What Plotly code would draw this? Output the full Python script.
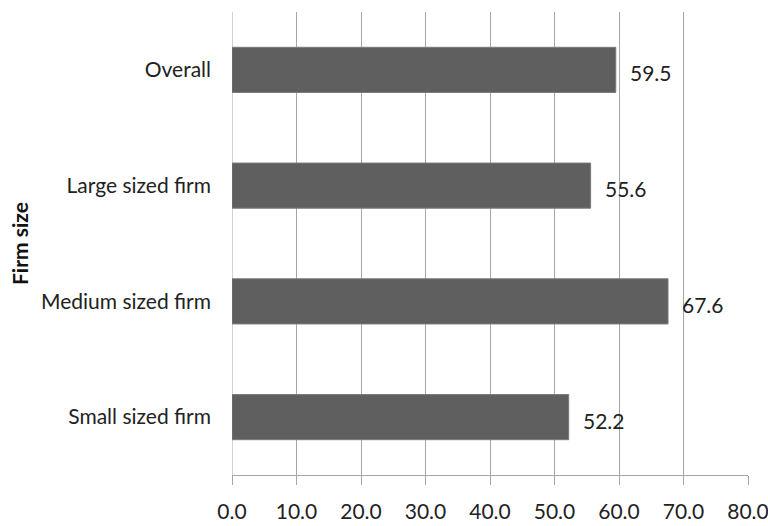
import plotly.graph_objects as go

categories = ["Small sized firm", "Medium sized firm", "Large sized firm", "Overall"]
values = [52.2, 67.6, 55.6, 59.5]
x_ticks = [0, 10, 20, 30, 40, 50, 60, 70, 80]
x_tick_labels = ["0.0", "10.0", "20.0", "30.0", "40.0", "50.0", "60.0", "70.0", "80.0"]

FONT = "Lato, Open Sans, sans-serif"
FS = 21
TXT = "#222222"

fig = go.Figure()
fig.add_trace(go.Bar(
    y=categories, x=values, orientation="h",
    marker=dict(color="#5f5f5f", line=dict(color="#7a7a7a", width=1)),
    width=0.39,
))

for c, v in zip(categories, values):
    fig.add_annotation(x=v, y=c, text=f"{v:.1f}", showarrow=False,
                       xanchor="left", xshift=12, yshift=-3,
                       font=dict(family=FONT, size=FS, color=TXT))

fig.add_annotation(xref="paper", yref="paper", x=-232 / 516, y=0.5,
                   xanchor="left", yanchor="middle", xshift=5,
                   text="<b>Firm size</b>", textangle=-90, showarrow=False,
                   font=dict(family=FONT, size=FS, color="#111111"))

fig.update_layout(
    width=768, height=526,
    margin=dict(l=232, r=20, t=12, b=51, autoexpand=False),
    paper_bgcolor="white", plot_bgcolor="white",
    showlegend=False,
    font=dict(family=FONT, size=FS, color=TXT),
)
fig.update_xaxes(
    range=[0, 80], tickvals=x_ticks, ticktext=x_tick_labels,
    showgrid=True, gridcolor="#a6a6a6", gridwidth=1,
    showline=True, linecolor="#a6a6a6", linewidth=1,
    ticks="outside", ticklen=9, tickcolor="#a6a6a6",
    tickfont=dict(family=FONT, size=FS, color=TXT),
    ticklabelstandoff=9, ticklabeloverflow="allow", automargin=False,
    zeroline=False,
)
fig.update_yaxes(
    categoryorder="array", categoryarray=categories,
    range=[-0.5, 3.5],
    showgrid=False, showline=False, zeroline=False,
    ticks="", ticklabelstandoff=20, automargin=False,
    tickfont=dict(family=FONT, size=FS, color=TXT),
)
fig.add_shape(type="line", xref="x", yref="paper", x0=0, x1=0, y0=0, y1=1,
              line=dict(color="#a6a6a6", width=1), layer="below")

fig.write_html("out.html")
